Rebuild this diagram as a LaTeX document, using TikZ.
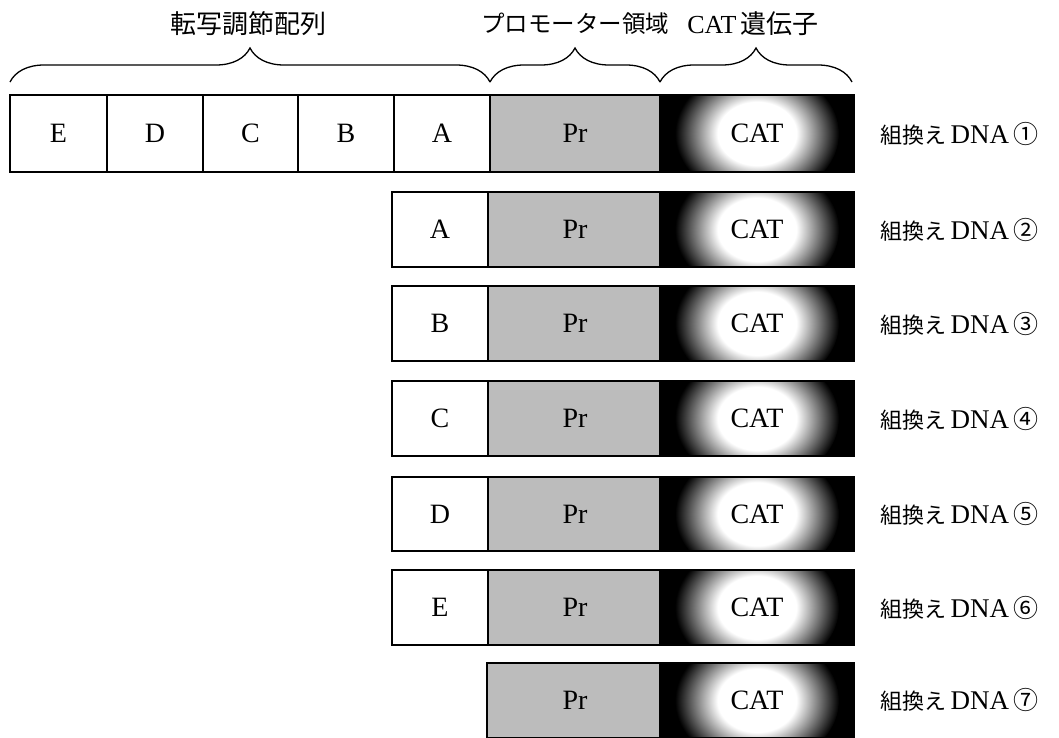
\documentclass[tikz,border=0pt]{standalone}
\usepackage{fontspec}
\setmainfont{Liberation Serif}
\newfontfamily\jp{Noto Sans CJK JP}
\usetikzlibrary{decorations.pathreplacing}
\definecolor{prgray}{RGB}{188,188,188}
\pgfdeclareradialshading{catglow}{\pgfpoint{0bp}{0bp}}{color(0bp)=(white); color(12bp)=(white); color(25bp)=(black); color(50bp)=(black)}
\tikzset{
  seqbox/.style={draw=black, line width=1.6pt, fill=white, inner sep=0pt},
  prbox/.style={draw=black, line width=1.6pt, fill=prgray, inner sep=0pt},
  boxtext/.style={inner sep=0pt, font=\fontsize{28}{32}\selectfont},
  dnalabel/.style={anchor=west, inner sep=0pt, font=\fontsize{27}{30}\selectfont},
  headlabel/.style={inner sep=0pt, font=\fontsize{26}{30}\selectfont},
  bracestyle/.style={decorate, decoration={brace, amplitude=34pt}, line width=1.3pt}
}
\newcommand{\jpl}[1]{{\fontsize{22}{26}\selectfont\jp #1}}
\newcommand{\jpc}[1]{{\fontsize{25}{28}\selectfont\jp #1}}
\newcommand{\catbox}[3]{% name, top y, bottom y
  \begin{scope}
    \clip (660,#2) rectangle (854,#3);
    \fill[black] (660,#2) rectangle (854,#3);
    \shade[shading=catglow] (757,{(#2+#3)/2}) ellipse (82 and 66);
  \end{scope}
  \draw[line width=1.6pt] (660,#2) rectangle (854,#3);
  \node[boxtext] (#1) at (757,{(#2+#3)/2}) {CAT};
}
\begin{document}
\begin{tikzpicture}[x=1pt,y=-1pt]
\useasboundingbox (0,0) rectangle (1059,737);
% headings
\node[headlabel] (h1) at (248,24) {\jp 転写調節配列};
\node[headlabel] (h2) at (575,24) {\fontsize{23.5}{28}\selectfont\jp プロモーター領域};
\node[headlabel] (h3) at (753,24) {CAT\,{\jp 遺伝子}};
% braces
\coordinate (b0) at (10,82);
\coordinate (b1) at (490,82);
\coordinate (b2) at (660,82);
\coordinate (b3) at (852,82);
\draw[bracestyle] (b0) -- (b1);
\draw[bracestyle] (b1) -- (b2);
\draw[bracestyle] (b2) -- (b3);
% row 1
\foreach \l/\xa/\xb in {E/10/107, D/107/203, C/203/298, B/298/394, A/394/490}{
  \draw[seqbox] (\xa,95) rectangle (\xb,172);
  \node[boxtext] (r1\l) at ({(\xa+\xb)/2},133.5) {\l};
}
\draw[prbox] (490,95) rectangle (660,172);
\node[boxtext] (r1pr) at (575,133.5) {Pr};
\catbox{r1cat}{95}{172}
\node[dnalabel] (L1) at (880,133.5) {\jpl{組換え}\,DNA\,\jpc{①}};
% rows 2-6
\foreach \n/\l/\t/\b/\c in {2/A/192/267/②, 3/B/286/361/③, 4/C/381/456/④, 5/D/477/551/⑤, 6/E/570/645/⑥}{
  \draw[seqbox] (392,\t) rectangle (488,\b);
  \node[boxtext] (r\n box) at (440,{(\t+\b)/2}) {\l};
  \draw[prbox] (488,\t) rectangle (660,\b);
  \node[boxtext] (r\n pr) at (575,{(\t+\b)/2}) {Pr};
  \catbox{r\n cat}{\t}{\b}
  \node[dnalabel] (L\n) at (880,{(\t+\b)/2}) {\jpl{組換え}\,DNA\,\jpc{\c}};
}
% row 7
\draw[prbox] (487,663) rectangle (660,738);
\node[boxtext] (r7pr) at (575,700) {Pr};
\catbox{r7cat}{663}{738}
\node[dnalabel] (L7) at (880,700) {\jpl{組換え}\,DNA\,\jpc{⑦}};
\end{tikzpicture}
\end{document}
